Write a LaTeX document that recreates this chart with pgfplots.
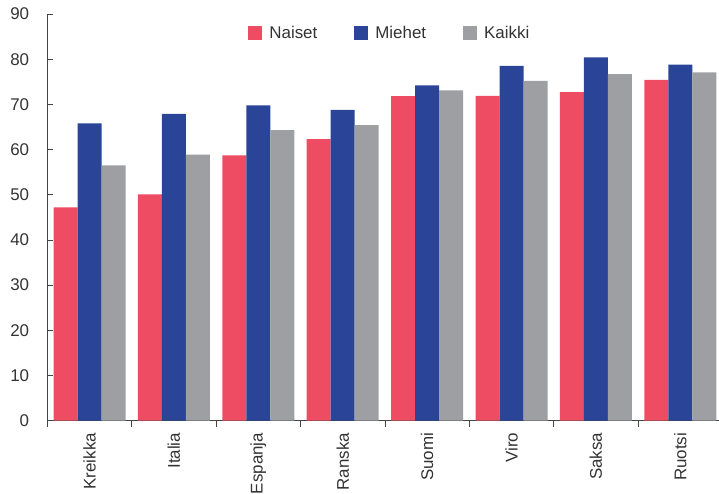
\documentclass[border=0pt]{standalone}
\usepackage{pgfplots}
\pgfplotsset{compat=1.18}
\usepackage{fontspec}
\setmainfont{Liberation Sans}
\definecolor{cpink}{HTML}{EE4C62}
\definecolor{cblue}{HTML}{2A4498}
\definecolor{cgray}{HTML}{9D9FA3}
\definecolor{ctext}{HTML}{333333}
\definecolor{caxis}{HTML}{444444}
\begin{document}
\begin{tikzpicture}
\begin{axis}[
  scale only axis, width=671.7bp, height=406.7bp,
  xmin=-0.5, xmax=7.458, ymin=0, ymax=90,
  enlargelimits=false,
  axis x line*=bottom, axis y line*=left,
  axis line style={caxis, line width=0.8pt, -},
  tick align=inside,
  major tick length=6bp,
  tick style={caxis, line width=0.8pt},
  ytick={0,10,...,90},
  xtick={-0.5,0.5,...,6.5},
  xticklabels={},
  extra x ticks={0,1,2,3,4,5,6,7},
  extra x tick labels={Kreikka,Italia,Espanja,Ranska,Suomi,Viro,Saksa,Ruotsi},
  extra x tick style={tick style={draw=none}},
  /pgf/number format/assume math mode=true,
  tick label style={font=\fontsize{17}{19}\selectfont, text=ctext},
  yticklabel style={inner sep=0pt, anchor=east, xshift=-18bp},
  xticklabel style={inner sep=0pt, yshift=-6bp, rotate=90, anchor=east},
  ybar=0pt, bar width=24bp,
  legend style={at={(axis description cs:0.51,0.953)}, anchor=center,
    draw=none, fill=none, legend columns=3,
    font=\fontsize{17}{19}\selectfont, text=ctext,
    /tikz/every odd column/.append style={column sep=5bp},
    /tikz/every even column/.append style={column sep=35bp}},
  legend image code/.code={\fill[#1] (0bp,-7bp) rectangle (14bp,7bp);},
]
\addplot[fill=cpink, draw=none] coordinates {(0,47.2) (1,50.1) (2,58.7) (3,62.3) (4,71.8) (5,71.9) (6,72.7) (7,75.4)};
\addlegendentry{Naiset}
\addplot[fill=cblue, draw=none] coordinates {(0,65.8) (1,67.9) (2,69.8) (3,68.8) (4,74.2) (5,78.5) (6,80.4) (7,78.8)};
\addlegendentry{Miehet}
\addplot[fill=cgray, draw=none] coordinates {(0,56.5) (1,58.9) (2,64.3) (3,65.4) (4,73.1) (5,75.2) (6,76.7) (7,77.1)};
\addlegendentry{Kaikki}
\end{axis}
\pgfresetboundingbox
\useasboundingbox ([shift={(-47.3bp,-73.3bp)}]current axis.south west) rectangle ([shift={(0bp,14bp)}]current axis.north east);
\end{tikzpicture}
\end{document}
